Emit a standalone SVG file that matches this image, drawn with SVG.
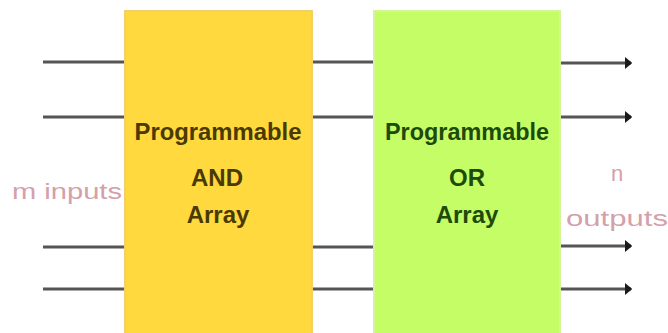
<svg xmlns="http://www.w3.org/2000/svg" width="668" height="333" viewBox="0 0 668 333">
<defs>
<style>
.wire{stroke:#555555;stroke-width:3;fill:none}
.lbl{font-family:"Liberation Sans",Arial,sans-serif;font-size:22px;fill:#d4a0aa}
.t{font-family:"Liberation Sans",Arial,sans-serif;font-weight:bold;font-size:24px;text-anchor:middle}
</style>
<marker id="arr" viewBox="0 0 6 10" refX="5" refY="5" markerWidth="2.5" markerHeight="4.5" markerUnits="strokeWidth" orient="auto">
<path d="M0,0 L6,5 L0,10 Z" fill="#1a1a1a"/>
</marker>
</defs>
<rect width="668" height="333" fill="#ffffff"/>
<g id="connectors">
<line class="wire" x1="43" y1="62" x2="125" y2="62"/>
<line class="wire" x1="43" y1="117" x2="125" y2="117"/>
<line class="wire" x1="43" y1="247" x2="125" y2="247"/>
<line class="wire" x1="43" y1="289" x2="125" y2="289"/>
<line class="wire" x1="311" y1="62" x2="374" y2="62"/>
<line class="wire" x1="311" y1="117" x2="374" y2="117"/>
<line class="wire" x1="311" y1="247" x2="374" y2="247"/>
<line class="wire" x1="311" y1="289" x2="374" y2="289"/>
<line class="wire" x1="560" y1="63" x2="631" y2="63" marker-end="url(#arr)"/>
<line class="wire" x1="560" y1="117" x2="631" y2="117" marker-end="url(#arr)"/>
<line class="wire" x1="560" y1="246" x2="631" y2="246" marker-end="url(#arr)"/>
<line class="wire" x1="560" y1="289" x2="631" y2="289" marker-end="url(#arr)"/>
</g>
<g id="and-array">
<rect x="125" y="11" width="187" height="324" fill="#ffd93d" stroke="#f2d067" stroke-width="2"/>
<text class="t" x="218" y="140" fill="#4a3a00" textLength="167" lengthAdjust="spacingAndGlyphs">Programmable</text>
<text class="t" x="217" y="186" fill="#4a3a00">AND</text>
<text class="t" x="218" y="223" fill="#4a3a00">Array</text>
</g>
<g id="or-array">
<rect x="374" y="11" width="186" height="324" fill="#c4fd66" stroke="#d4f39a" stroke-width="2"/>
<text class="t" x="467" y="140" fill="#1e4a0a" textLength="164" lengthAdjust="spacingAndGlyphs">Programmable</text>
<text class="t" x="467" y="186" fill="#1e4a0a">OR</text>
<text class="t" x="467" y="223" fill="#1e4a0a">Array</text>
</g>
<g id="inputs-label">
<text class="lbl" x="12" y="199" textLength="110" lengthAdjust="spacingAndGlyphs">m inputs</text>
</g>
<g id="outputs-label">
<text class="lbl" x="617" y="181" text-anchor="middle">n</text>
<text class="lbl" x="566" y="226" textLength="102" lengthAdjust="spacingAndGlyphs">outputs</text>
</g>
</svg>
